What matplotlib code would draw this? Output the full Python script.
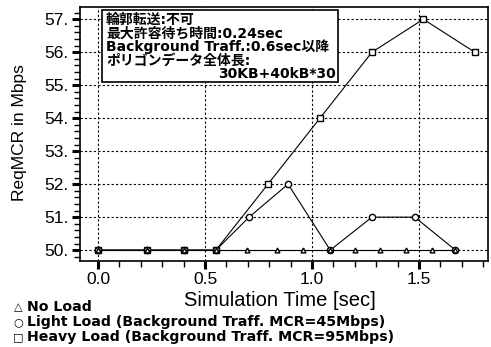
import matplotlib
matplotlib.use("Agg")
import matplotlib.pyplot as plt
from matplotlib.ticker import MultipleLocator, FuncFormatter
from matplotlib.patches import Rectangle

# data
t_heavy = [0.0, 0.227, 0.4, 0.551, 0.794, 1.037, 1.28, 1.52, 1.76]
heavy = [50, 50, 50, 50, 52, 54, 56, 57, 56]
t_light = [0.0, 0.227, 0.4, 0.551, 0.706, 0.888, 1.085, 1.28, 1.48, 1.67]
light = [50, 50, 50, 50, 51, 52, 50, 51, 51, 50]
t_none = [0.0, 0.227, 0.4, 0.551, 0.695, 0.835, 0.96, 1.085, 1.2, 1.318, 1.44, 1.56, 1.67]
none = [50] * len(t_none)

box_lines = ["輪郭転送:不可", "最大許容待ち時間:0.24sec",
             "Background Traff.:0.6sec以降", "ポリゴンデータ全体長:"]
box_last = "30KB+40kB*30"
legend_labels = ["No Load",
                 "Light Load (Background Traff. MCR=45Mbps)",
                 "Heavy Load (Background Traff. MCR=95Mbps)"]
legend_marks = ["△", "○", "□"]

plt.rcParams['font.family'] = ['Liberation Sans', 'Noto Sans CJK JP', 'DejaVu Sans']
wide = ['DejaVu Sans', 'Noto Sans CJK JP']

W, H = 491, 347
fig = plt.figure(figsize=(W / 100, H / 100), dpi=100)
ax = fig.add_axes([80 / W, 1 - 261 / H, 408 / W, 254 / H])

ax.plot(t_heavy, heavy, color='black', lw=0.8, marker='s', ms=4.5,
        mfc='white', mec='black', mew=1.0, zorder=3)
ax.plot(t_light, light, color='black', lw=0.8, marker='o', ms=4.5,
        mfc='white', mec='black', mew=1.0, zorder=3)
ax.plot(t_none, none, color='black', lw=0.8, marker='^', ms=3.5,
        mfc='white', mec='black', mew=1.0, zorder=3)

ax.set_xlim(-0.084, 1.822)
ax.set_ylim(49.67, 57.37)
ax.xaxis.set_major_locator(MultipleLocator(0.5))
ax.xaxis.set_minor_locator(MultipleLocator(0.1))
ax.yaxis.set_major_locator(MultipleLocator(1))
ax.yaxis.set_minor_locator(MultipleLocator(0.2))
ax.yaxis.set_major_formatter(FuncFormatter(lambda v, p: f"{int(round(v))}."))
ax.xaxis.set_major_formatter(FuncFormatter(lambda v, p: f"{v:.1f}"))
ax.tick_params(axis='both', which='major', direction='out', length=6, width=2.2,
               labelsize=12.5, pad=2)
ax.tick_params(axis='both', which='minor', direction='out', length=4, width=1)
ax.grid(True, which='major', color='black', lw=0.8, ls=(0, (2, 2)))
for s in ax.spines.values():
    s.set_linewidth(1.2)

fig.text(280 / W, 1 - 301 / H, "Simulation Time [sec]", fontsize=14.5,
         ha='center', va='center')
fig.text(20 / W, 1 - 133 / H, "ReqMCR in Mbps", fontsize=12.5, rotation=90,
         ha='center', va='center')

# annotation box
fig.patches.append(Rectangle((102 / W, 1 - 82 / H), 236 / W, 72 / H,
                             transform=fig.transFigure, fill=True, fc='white',
                             ec='black', lw=1.2, zorder=5))
for i, line in enumerate(box_lines):
    fig.text(106 / W, 1 - (20 + i * 13.5) / H, line, fontsize=10, weight='bold',
             ha='left', va='center', zorder=6, family=wide)
fig.text(336 / W, 1 - 74.5 / H, box_last, fontsize=10, weight='bold',
         ha='right', va='center', zorder=6, family=wide)

# legend under the plot
for i, (mk, lab) in enumerate(zip(legend_marks, legend_labels)):
    y = 1 - (307 + i * 15) / H
    fig.text(18 / W, y, mk, fontsize=8, ha='center', va='center',
             family=['DejaVu Sans'])
    fig.text(27 / W, y, lab, fontsize=10.2, weight='bold', ha='left', va='center',
             family=wide)

fig.savefig("out.png", dpi=100)
